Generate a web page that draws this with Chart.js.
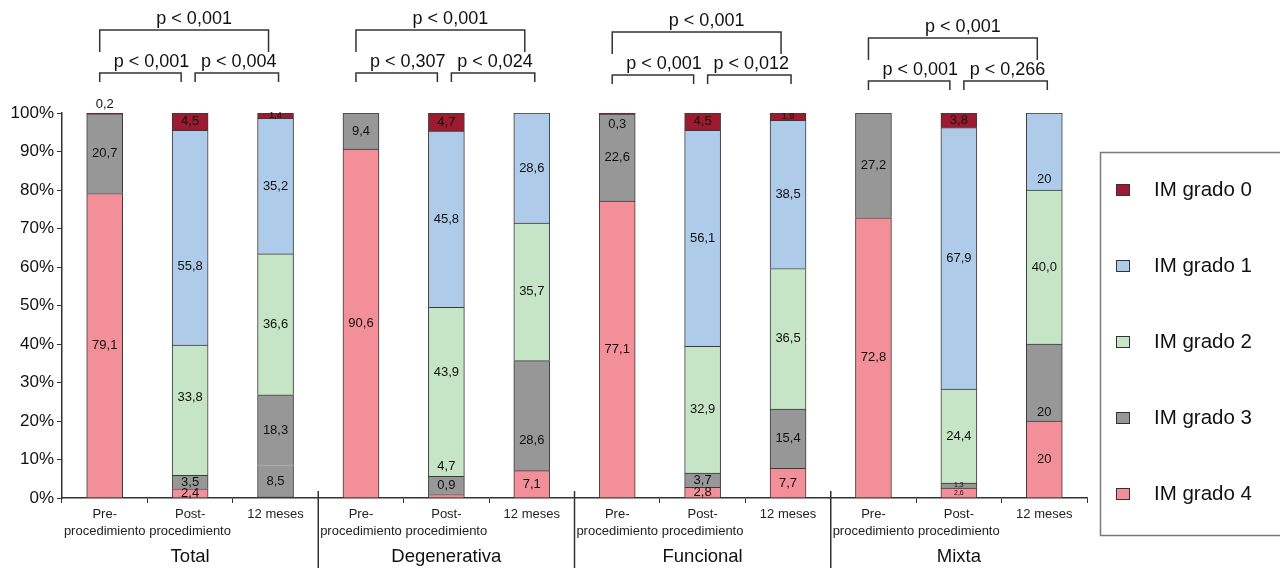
<!DOCTYPE html>
<html>
<head>
<meta charset="utf-8">
<script src="https://cdn.jsdelivr.net/npm/chart.js@4.4.1/dist/chart.umd.min.js"></script>
<style>
  html, body { margin: 0; padding: 0; background: #fff; }
  #wrap { width: 1280px; height: 568px; position: relative; }
</style>
</head>
<body>
<div id="wrap"><canvas id="c" width="1280" height="568"></canvas></div>
<script>
// ---- data -------------------------------------------------------------
const groups = ['Total', 'Degenerativa', 'Funcional', 'Mixta'];
const stages = [['Pre-', 'procedimiento'], ['Post-', 'procedimiento'], ['12 meses']];
const gradeNames = ['IM grado 0', 'IM grado 1', 'IM grado 2', 'IM grado 3', 'IM grado 4'];

// percentages as printed (decimal comma); '' = no segment
const grado0 = ['0,2', '4,5', '1,4',   '',    '4,7', '',      '0,3',  '4,5', '1,9',   '',     '3,8', ''];
const grado1 = ['',    '55,8', '35,2', '',    '45,8', '28,6', '',     '56,1', '38,5', '',     '67,9', '20'];
const grado2 = ['',    '33,8', '36,6', '',    '43,9', '35,7', '',     '32,9', '36,5', '',     '24,4', '40,0'];
const grado3 = ['20,7', '3,5', '18,3', '9,4', '4,7',  '28,6', '22,6', '3,7',  '15,4', '27,2', '1,3',  '20'];
const grado4 = ['79,1', '2,4', '8,5',  '90,6', '0,9', '7,1',  '77,1', '2,8',  '7,7',  '72,8', '2,6',  '20'];

// per group: [pre vs 12 meses, pre vs post, post vs 12 meses]
const pValues = [
  ['p < 0,001', 'p < 0,001', 'p < 0,004'],
  ['p < 0,001', 'p < 0,307', 'p < 0,024'],
  ['p < 0,001', 'p < 0,001', 'p < 0,012'],
  ['p < 0,001', 'p < 0,001', 'p < 0,266']
];

// ---- helpers ----------------------------------------------------------
const FONT = "'Liberation Sans', Arial, Helvetica, sans-serif";
const toNum = s => (s === '' ? null : parseFloat(s.replace(',', '.')));
const gradeStrings = [grado0, grado1, grado2, grado3, grado4];
const gradeColors = ['#9d1b31', '#aecbea', '#c6e4c6', '#979797', '#f38f98'];

const categories = [];
groups.forEach(() => stages.forEach(s => categories.push(s)));

// label tweaks, keyed "grade:index" (shift in percentage points, up = positive)
const labelShift = {
  '0:0': 2.3, '0:6': -2.8, '4:4': 2.8, '3:4': 4.9,
  '1:1': -7.5, '2:1': 3.4, '2:4': 5, '3:5': -6.5, '3:11': -7.8, '1:11': -7.3
};
const labelSize = { '0:2': 9, '0:8': 9, '3:10': 7, '4:10': 7 };
// the 8,5 segment of "Total / 12 meses" is filled like grado 3
const greyed = { '4:2': true };

// stack from grado 4 (bottom) to grado 0 (top)
const datasets = [4, 3, 2, 1, 0].map(g => ({
  label: gradeNames[g],
  grade: g,
  data: gradeStrings[g].map(toNum),
  backgroundColor: ctx => (greyed[g + ':' + ctx.dataIndex] ? gradeColors[3] : gradeColors[g]),
  borderColor: '#3a3a3a',
  borderWidth: 1,
  borderSkipped: ctx => (greyed[g + ':' + ctx.dataIndex] ? 'top' : 'start'),
  barThickness: 36
}));

// ---- plugins ----------------------------------------------------------
const segmentLabels = {
  id: 'segmentLabels',
  afterDatasetsDraw(chart) {
    const ctx = chart.ctx;
    const ys = chart.scales.y;
    const unit = (ys.bottom - ys.top) / 100;
    ctx.save();
    ctx.fillStyle = '#111';
    ctx.textAlign = 'center';
    ctx.textBaseline = 'middle';
    chart.data.datasets.forEach((ds, di) => {
      const meta = chart.getDatasetMeta(di);
      const g = ds.grade;
      meta.data.forEach((el, i) => {
        const txt = gradeStrings[g][i];
        if (!txt) return;
        const key = g + ':' + i;
        const size = labelSize[key] || 13;
        const y = (el.y + el.base) / 2 - (labelShift[key] || 0) * unit;
        ctx.font = size + 'px ' + FONT;
        ctx.fillText(txt, el.x, y);
      });
    });
    ctx.restore();
  }
};

const annotations = {
  id: 'annotations',
  afterDraw(chart) {
    const ctx = chart.ctx;
    const xs = chart.scales.x;
    const px = i => xs.getPixelForValue(i);
    const dy = [0, 0, 2, 8];
    ctx.save();
    ctx.strokeStyle = '#333';
    ctx.fillStyle = '#111';
    ctx.lineWidth = 1.5;
    ctx.textAlign = 'center';
    ctx.textBaseline = 'middle';
    ctx.font = '18px ' + FONT;

    const bracket = (a, b, y, leg) => {
      ctx.beginPath();
      ctx.moveTo(a, y + leg);
      ctx.lineTo(a, y);
      ctx.lineTo(b, y);
      ctx.lineTo(b, y + leg);
      ctx.stroke();
    };

    groups.forEach((name, g) => {
      const x0 = px(g * 3), x1 = px(g * 3 + 1), x2 = px(g * 3 + 2);
      const d = dy[g];
      // pre vs 12 meses
      bracket(x0 - 5, x2 - 7, 30 + d, 22);
      ctx.fillText(pValues[g][0], (x0 + x2) / 2 + 4, 19 + d);
      // pre vs post
      bracket(x0 - 5, x1 - 9, 73 + d, 9);
      ctx.fillText(pValues[g][1], (x0 + x1) / 2 + 4, 62 + d);
      // post vs 12 meses
      bracket(x1 + 5, x2 + 3, 73 + d, 9);
      ctx.fillText(pValues[g][2], (x1 + x2) / 2 + 6, 62 + d);

      // group name under the stage labels
      ctx.font = '18.5px ' + FONT;
      ctx.fillText(name, x1, 557);
      ctx.font = '18px ' + FONT;

      // separator to the next group
      if (g < groups.length - 1) {
        const xs2 = (x2 + px(g * 3 + 3)) / 2;
        ctx.beginPath();
        ctx.moveTo(xs2, 491);
        ctx.lineTo(xs2, 568);
        ctx.stroke();
      }
    });

    // legend box
    ctx.strokeStyle = '#7a7a7a';
    ctx.lineWidth = 1.5;
    ctx.strokeRect(1100.5, 152.5, 200, 383);
    ctx.textAlign = 'left';
    ctx.font = '20.5px ' + FONT;
    gradeNames.forEach((n, g) => {
      const y = 190 + g * 76;
      ctx.fillStyle = gradeColors[g];
      ctx.fillRect(1116, y - 6, 14, 12);
      ctx.strokeStyle = '#333';
      ctx.lineWidth = 1;
      ctx.strokeRect(1116.5, y - 5.5, 13, 11);
      ctx.fillStyle = '#111';
      ctx.fillText(n, 1154, y);
    });
    ctx.restore();
  }
};

// ---- chart ------------------------------------------------------------
new Chart(document.getElementById('c'), {
  type: 'bar',
  data: { labels: categories, datasets },
  options: {
    responsive: false,
    animation: false,
    devicePixelRatio: 1,
    layout: { padding: { top: 113, right: 193, left: 0, bottom: 0 } },
    plugins: { legend: { display: false }, tooltip: { enabled: false } },
    scales: {
      x: {
        stacked: true,
        grid: { offset: true, drawOnChartArea: false, tickLength: 5, color: '#333', lineWidth: 1 },
        border: { color: '#333', width: 1.5 },
        ticks: { font: { size: 13, family: FONT, lineHeight: 1.3 }, color: '#222', padding: 3, maxRotation: 0, autoSkip: false },
        afterFit: s => { s.height = 70; }
      },
      y: {
        stacked: true,
        min: 0,
        max: 100,
        ticks: { stepSize: 10, callback: v => v + '%', font: { size: 17, family: FONT }, color: '#111', padding: 3 },
        grid: { drawOnChartArea: false, tickLength: 5, color: '#333', lineWidth: 1 },
        border: { color: '#333', width: 1.5 },
        afterFit: s => { s.width = 62; }
      }
    }
  },
  plugins: [segmentLabels, annotations]
});
</script>
</body>
</html>
